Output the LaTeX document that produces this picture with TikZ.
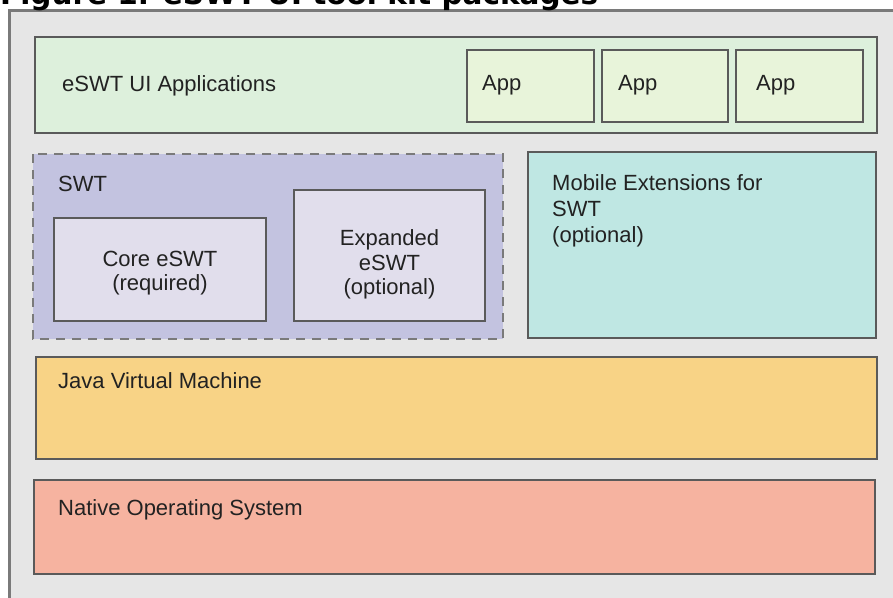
\documentclass[tikz,border=0pt]{standalone}
\usepackage{fontspec}
\setmainfont{Liberation Sans}
\newfontfamily\titlefont{DejaVu Sans}
\definecolor{panelbg}{HTML}{E6E6E6}
\definecolor{panelline}{HTML}{7A7A7A}
\definecolor{boxline}{HTML}{5A5A5A}
\definecolor{appsbg}{HTML}{DDF0DC}
\definecolor{appbg}{HTML}{E8F4DA}
\definecolor{swtbg}{HTML}{C3C3E0}
\definecolor{corebg}{HTML}{E1DEEC}
\definecolor{mobbg}{HTML}{BFE7E3}
\definecolor{jvmbg}{HTML}{F8D386}
\definecolor{osbg}{HTML}{F6B3A0}
\definecolor{txt}{HTML}{222222}
\tikzset{
  layerbox/.style={draw=boxline, line width=2pt},
  dashbox/.style={draw=panelline, line width=2.6pt, dash pattern=on 9pt off 7pt},
  lbl/.style={anchor=base west, inner sep=0pt, text=txt, font=\fontsize{22}{26}\selectfont},
  clbl/.style={anchor=base, inner sep=0pt, text=txt, font=\fontsize{22}{26}\selectfont},
}
\begin{document}
\begin{tikzpicture}[x=1pt,y=-1pt]
\useasboundingbox (0,0) rectangle (893,597);
\clip (0,0) rectangle (893,597);
% outer panel
\path[fill=panelbg, draw=panelline, line width=2.6pt] (9.5,10.5) rectangle (900,610);
\node[anchor=base west, inner sep=0pt, text=black] (title) at (0,4.5)
  {\resizebox{598pt}{!}{\titlefont\bfseries Figure 1. eSWT UI tool kit packages}};
% applications layer
\path[layerbox, fill=appsbg] (35,37) rectangle (877,133);
\node[lbl] (appslbl) at (62,91) {eSWT UI Applications};
\path[layerbox, fill=appbg] (467,50) rectangle (594,122);
\path[layerbox, fill=appbg] (602,50) rectangle (728,122);
\path[layerbox, fill=appbg] (736,50) rectangle (863,122);
\node[lbl] (app1) at (482,90) {App};
\node[lbl] (app2) at (618,90) {App};
\node[lbl] (app3) at (756,90) {App};
% SWT
\path[fill=swtbg] (33,154) rectangle (503,339);
\path[dashbox] (33,154) rectangle (503,339);
\node[lbl] (swtlbl) at (58,191) {SWT};
\path[layerbox, fill=corebg] (54,218) rectangle (266,321);
\node[clbl] (core1) at (160,266) {Core eSWT};
\node[clbl] (core2) at (160,290) {(required)};
\path[layerbox, fill=corebg] (294,190) rectangle (485,321);
\node[clbl] (exp1) at (389.5,245) {Expanded};
\node[clbl] (exp2) at (389.5,270) {eSWT};
\node[clbl] (exp3) at (389.5,294) {(optional)};
% mobile extensions
\path[layerbox, fill=mobbg] (528,152) rectangle (876,338);
\node[lbl] (mob1) at (552,190) {Mobile Extensions for};
\node[lbl] (mob2) at (552,216) {SWT};
\node[lbl] (mob3) at (552,242) {(optional)};
% JVM
\path[layerbox, fill=jvmbg] (36,357) rectangle (877,459);
\node[lbl] (jvm) at (58,388) {Java Virtual Machine};
% native OS
\path[layerbox, fill=osbg] (34,480) rectangle (875,574);
\node[lbl] (os) at (58,515) {Native Operating System};
\end{tikzpicture}
\end{document}
